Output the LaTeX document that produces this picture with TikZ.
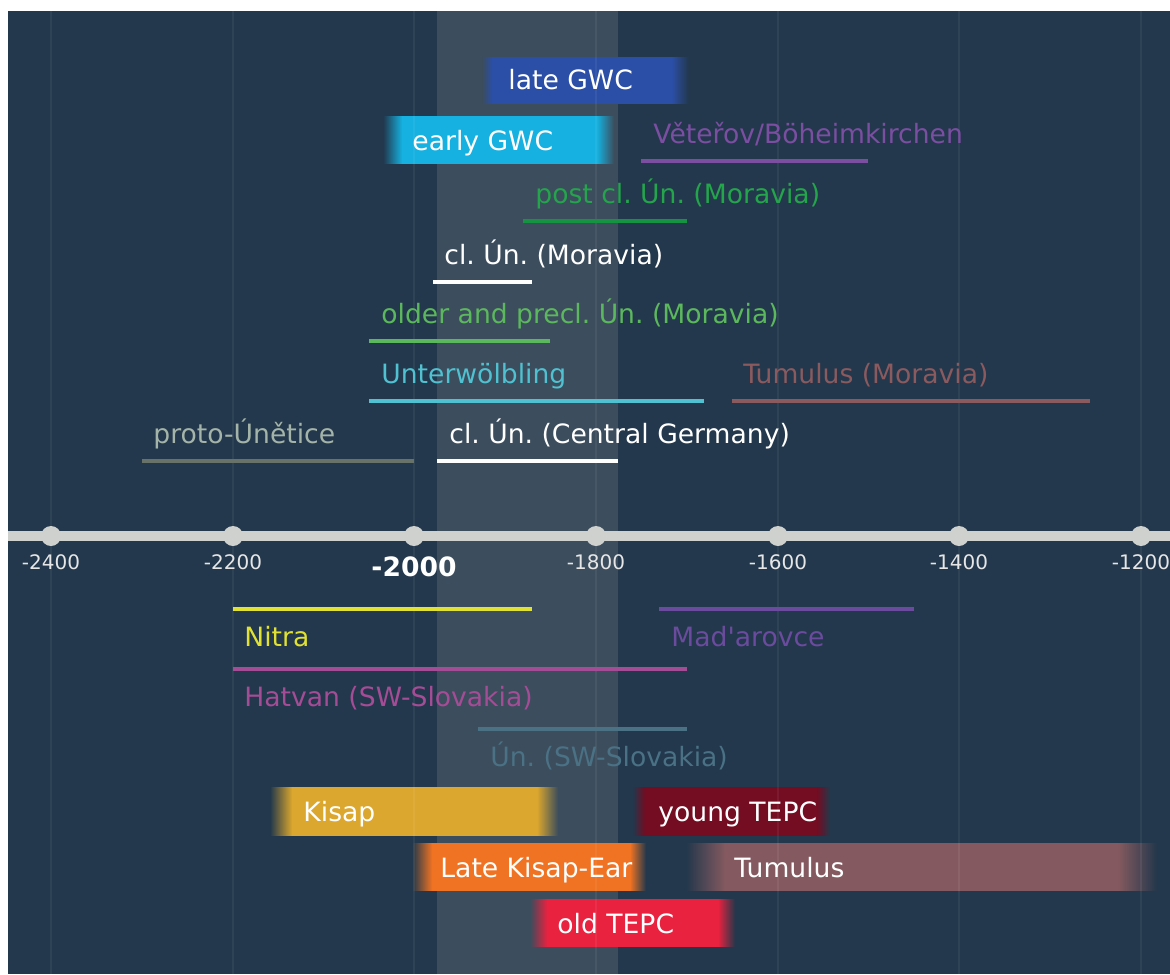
\documentclass[tikz,border=0pt]{standalone}
\usepackage{fontspec}
\setmainfont{DejaVu Sans}
\usetikzlibrary{fadings}
\definecolor{bgc}{HTML}{23384C}
\definecolor{bandc}{HTML}{3C4D5D}
\definecolor{gridc}{HTML}{2E4456}
\definecolor{axisc}{HTML}{CFD1CE}
\definecolor{tickc}{HTML}{E6E6E6}
\definecolor{protoL}{HTML}{687268}
\definecolor{protoT}{HTML}{A4B4A8}
\definecolor{unterc}{HTML}{4FC1D0}
\definecolor{tummorc}{HTML}{8A5A5F}
\definecolor{olderc}{HTML}{5CB85C}
\definecolor{postL}{HTML}{159340}
\definecolor{postT}{HTML}{24A44B}
\definecolor{vetc}{HTML}{7B4EA2}
\definecolor{nitrac}{HTML}{E0E132}
\definecolor{madc}{HTML}{6B4B9D}
\definecolor{hatc}{HTML}{A54C96}
\definecolor{unswc}{HTML}{4A7184}
\definecolor{lategwc}{HTML}{2B4FA6}
\definecolor{earlygwc}{HTML}{16B1E0}
\definecolor{kisapc}{HTML}{DCA72E}
\definecolor{youngc}{HTML}{740C22}
\definecolor{latekc}{HTML}{F07323}
\definecolor{tumc}{HTML}{845A60}
\definecolor{oldc}{HTML}{E8223F}
\tikzset{
  lbl/.style={anchor=base west, inner sep=0pt, font=\fontsize{13.3}{16}\selectfont\frenchspacing},
  boxtext/.style={lbl, text=white},
  bar/.style={line width=2pt},
  ticklbl/.style={anchor=base, inner sep=0pt, font=\fontsize{10}{12}\selectfont, text=tickc},
  dot/.style={circle, fill=axisc, inner sep=0pt, minimum size=10pt},
}
\newcommand\tlbox[7]{%
  \fill[#7, path fading=west] (#1,#5) rectangle (#2,#6);
  \fill[#7] (#2,#5) rectangle (#3,#6);
  \fill[#7, path fading=east] (#3,#5) rectangle (#4,#6);
}
\begin{document}
\frenchspacing
\begin{tikzpicture}[x=0.5pt,y=-0.5pt]
\useasboundingbox (0,0) rectangle (1170,974);
\fill[white] (0,0) rectangle (1170,974);
\fill[bgc] (8,11) rectangle (1170,974);
\fill[bandc] (437,11) rectangle (618,974);

% boxes
\tlbox{482}{492}{672}{689}{57}{104}{lategwc}
\tlbox{383}{402}{597}{614}{116}{164}{earlygwc}
\tlbox{270}{292}{537}{558}{787}{836}{kisapc}
\tlbox{633}{645}{817}{830}{787}{836}{youngc}
\tlbox{412}{432}{630}{646}{843}{891}{latekc}
\tlbox{686}{725}{1118}{1157}{843}{891}{tumc}
\tlbox{530}{547}{718}{735}{899}{947}{oldc}

% grid lines
\foreach \gx in {51,233,414,596,778,959,1141}
  \draw[white, opacity=0.06, line width=0.75pt] (\gx,11) -- (\gx,974);

% axis
\coordinate (axL) at (8,536);
\coordinate (axR) at (1170,536);
\draw[axisc, line width=5pt] (axL) -- (axR);
\foreach \gx/\yr in {51/-2400,233/-2200,596/-1800,778/-1600,959/-1400,1141/-1200}{
  \node[dot] (d\yr) at (\gx,536) {};
  \node[ticklbl] (t\yr) at (\gx,569) {\yr};
}
\node[dot] (d-2000) at (414,536) {};
\node[anchor=base, inner sep=0pt, font=\fontsize{13.3}{16}\selectfont\bfseries, text=white] (t-2000) at (414,576) {-2000};

% box labels
\node[boxtext] (lategwcT) at (508,90) {late GWC};
\node[boxtext] (earlygwcT) at (412,150) {early GWC};
\node[boxtext] (kisapT) at (303,821) {Kisap};
\node[boxtext] (youngT) at (658,821) {young TEPC};
\node[boxtext] (latekT) at (440,877) {Late Kisap-Ear};
\node[boxtext] (tumT) at (734,877) {Tumulus};
\node[boxtext] (oldT) at (557,933) {old TEPC};

% bars above axis
\draw[bar, protoL] (142,461) coordinate (protoA) -- (414,461) coordinate (protoB);
\node[lbl, text=protoT] (protoT) at (153,443) {proto-Únětice};
\draw[bar, white] (437,461) coordinate (cgA) -- (618,461) coordinate (cgB);
\node[lbl, text=white] (cgT) at (449,443) {cl. Ún. (Central Germany)};
\draw[bar, unterc] (369,401) coordinate (unA) -- (704,401) coordinate (unB);
\node[lbl, text=unterc] (unT) at (381,383) {Unterwölbling};
\draw[bar, tummorc] (732,401) coordinate (tmA) -- (1090,401) coordinate (tmB);
\node[lbl, text=tummorc] (tmT) at (743,383) {Tumulus (Moravia)};
\draw[bar, olderc] (369,341) coordinate (olA) -- (550,341) coordinate (olB);
\node[lbl, text=olderc] (olT) at (381,323) {older and precl. Ún. (Moravia)};
\draw[bar, white] (433,282) coordinate (cmA) -- (532,282) coordinate (cmB);
\node[lbl, text=white] (cmT) at (444,264) {cl. Ún. (Moravia)};
\draw[bar, postL] (523,221) coordinate (pcA) -- (687,221) coordinate (pcB);
\node[lbl, text=postT] (pcT) at (535,203) {post cl. Ún. (Moravia)};
\draw[bar, vetc] (641,161) coordinate (vtA) -- (868,161) coordinate (vtB);
\node[lbl, text=vetc] (vtT) at (653,143) {Věteřov/Böheimkirchen};

% bars below axis
\draw[bar, nitrac] (233,609) coordinate (niA) -- (532,609) coordinate (niB);
\node[lbl, text=nitrac] (niT) at (244,646) {Nitra};
\draw[bar, madc] (659,609) coordinate (maA) -- (914,609) coordinate (maB);
\node[lbl, text=madc] (maT) at (671,646) {Mad\textquotesingle arovce};
\draw[bar, hatc] (233,669) coordinate (haA) -- (687,669) coordinate (haB);
\node[lbl, text=hatc] (haT) at (244,706) {Hatvan (SW-Slovakia)};
\draw[bar, unswc] (478,729) coordinate (usA) -- (687,729) coordinate (usB);
\node[lbl, text=unswc] (usT) at (490,766) {Ún. (SW-Slovakia)};
\end{tikzpicture}
\end{document}
